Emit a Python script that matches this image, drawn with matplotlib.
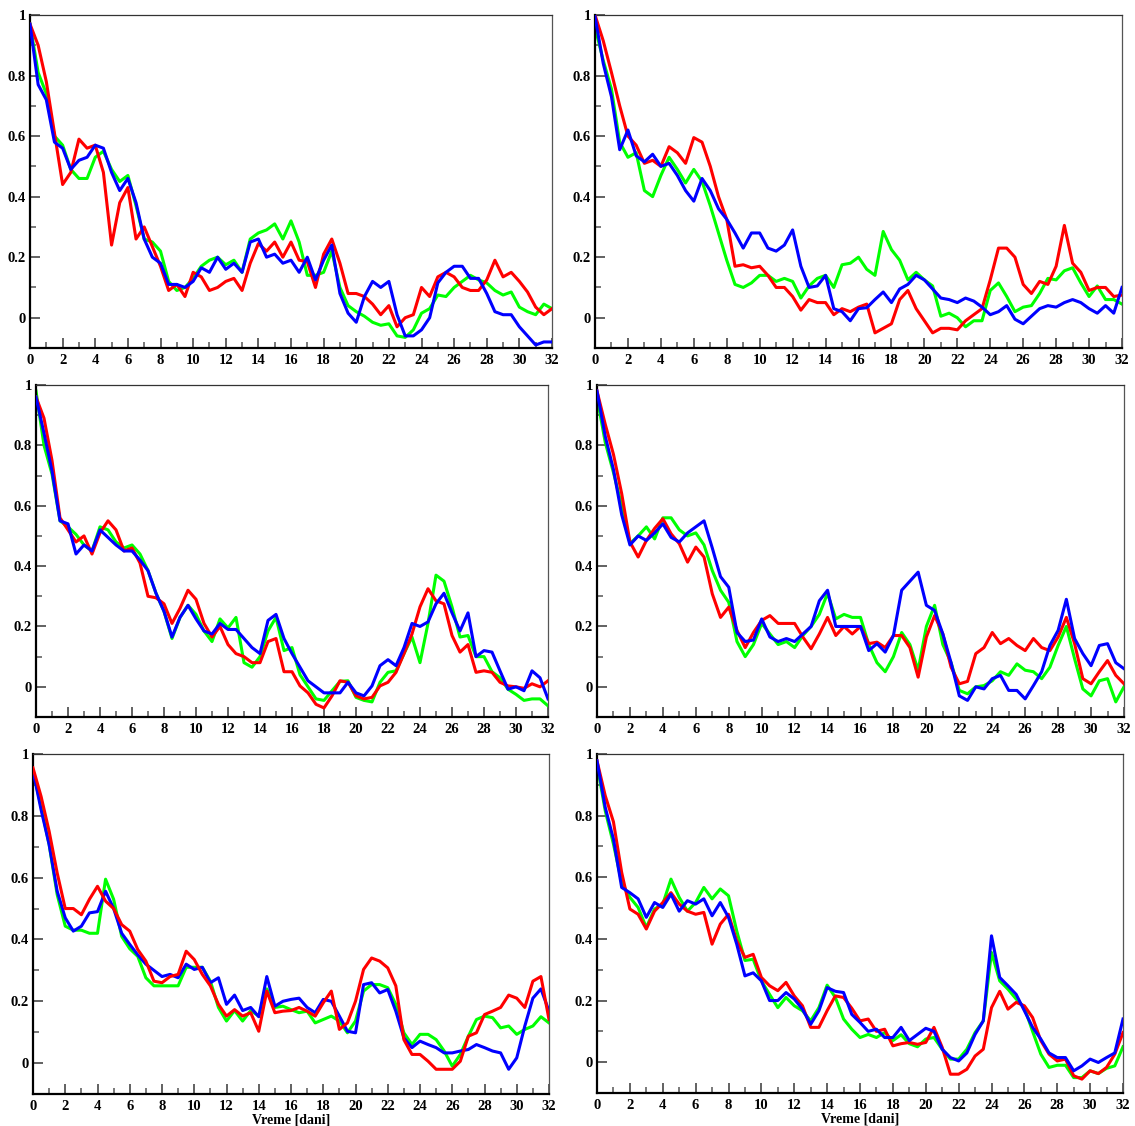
import numpy as np
import matplotlib
matplotlib.use("Agg")
import matplotlib.pyplot as plt
from matplotlib.ticker import MultipleLocator, FixedLocator, FuncFormatter

# time axis (days), one sample every half day
days = np.linspace(0, 32, 65)

# ---------------- top-left panel ----------------
tl_green = [0.97, 0.81, 0.74, 0.60, 0.57, 0.49, 0.46, 0.46, 0.53, 0.55,
            0.49, 0.45, 0.47, 0.37, 0.26, 0.25, 0.22, 0.12, 0.09, 0.10,
            0.13, 0.17, 0.19, 0.20, 0.175, 0.19, 0.15, 0.26, 0.28, 0.29,
            0.31, 0.26, 0.32, 0.25, 0.14, 0.14, 0.15, 0.22, 0.10, 0.04,
            0.02, 0.005, -0.015, -0.025, -0.02, -0.06, -0.065, -0.04, 0.015, 0.03,
            0.075, 0.07, 0.10, 0.12, 0.14, 0.125, 0.115, 0.09, 0.075, 0.085,
            0.035, 0.02, 0.01, 0.045, 0.03]
tl_blue = [0.97, 0.77, 0.72, 0.58, 0.56, 0.49, 0.52, 0.53, 0.57, 0.56,
           0.48, 0.42, 0.46, 0.38, 0.26, 0.20, 0.18, 0.11, 0.11, 0.10,
           0.12, 0.165, 0.15, 0.20, 0.16, 0.18, 0.15, 0.25, 0.26, 0.20,
           0.21, 0.18, 0.19, 0.15, 0.20, 0.125, 0.19, 0.24, 0.08, 0.015,
           -0.015, 0.07, 0.12, 0.10, 0.12, 0.01, -0.06, -0.06, -0.04, 0.0,
           0.115, 0.15, 0.17, 0.17, 0.13, 0.13, 0.08, 0.02, 0.01, 0.01,
           -0.03, -0.06, -0.09, -0.08, -0.08]
tl_red = [0.97, 0.90, 0.78, 0.61, 0.44, 0.48, 0.59, 0.56, 0.57, 0.48,
          0.24, 0.38, 0.43, 0.26, 0.30, 0.235, 0.17, 0.09, 0.11, 0.07,
          0.15, 0.135, 0.09, 0.10, 0.12, 0.13, 0.09, 0.18, 0.245, 0.22,
          0.25, 0.20, 0.25, 0.19, 0.185, 0.10, 0.21, 0.26, 0.18, 0.08,
          0.08, 0.07, 0.045, 0.01, 0.04, -0.03, 0.0, 0.01, 0.10, 0.07,
          0.135, 0.15, 0.135, 0.10, 0.09, 0.09, 0.125, 0.19, 0.135, 0.15,
          0.12, 0.085, 0.035, 0.01, 0.03]

# ---------------- top-right panel ----------------
tr_green = [0.96, 0.85, 0.755, 0.58, 0.53, 0.545, 0.42, 0.40, 0.47, 0.53,
            0.49, 0.445, 0.49, 0.45, 0.37, 0.28, 0.19, 0.11, 0.10, 0.115,
            0.14, 0.14, 0.12, 0.13, 0.12, 0.065, 0.105, 0.13, 0.14, 0.10,
            0.175, 0.18, 0.20, 0.16, 0.14, 0.285, 0.225, 0.19, 0.125, 0.15,
            0.125, 0.105, 0.005, 0.015, 0.0, -0.03, -0.01, -0.01, 0.09, 0.115,
            0.07, 0.02, 0.035, 0.04, 0.08, 0.13, 0.125, 0.155, 0.165, 0.115,
            0.07, 0.105, 0.06, 0.06, 0.045]
tr_blue = [0.995, 0.84, 0.73, 0.555, 0.62, 0.535, 0.515, 0.54, 0.50, 0.51,
           0.47, 0.42, 0.385, 0.46, 0.42, 0.36, 0.325, 0.28, 0.23, 0.28,
           0.28, 0.23, 0.22, 0.24, 0.29, 0.17, 0.10, 0.105, 0.14, 0.03,
           0.02, -0.01, 0.03, 0.033, 0.06, 0.085, 0.05, 0.095, 0.11, 0.14,
           0.125, 0.095, 0.065, 0.06, 0.05, 0.065, 0.055, 0.035, 0.01, 0.02,
           0.04, -0.005, -0.02, 0.005, 0.03, 0.04, 0.035, 0.05, 0.06, 0.05,
           0.03, 0.015, 0.04, 0.015, 0.10]
tr_red = [1.0, 0.915, 0.81, 0.70, 0.60, 0.57, 0.51, 0.52, 0.50, 0.565,
          0.545, 0.51, 0.595, 0.58, 0.50, 0.40, 0.325, 0.17, 0.175, 0.165,
          0.17, 0.14, 0.10, 0.10, 0.07, 0.025, 0.06, 0.05, 0.05, 0.01,
          0.03, 0.02, 0.035, 0.045, -0.05, -0.035, -0.02, 0.06, 0.09, 0.03,
          -0.01, -0.05, -0.035, -0.035, -0.04, -0.01, 0.01, 0.03, 0.125, 0.23,
          0.23, 0.20, 0.11, 0.08, 0.12, 0.11, 0.17, 0.305, 0.18, 0.15,
          0.09, 0.10, 0.10, 0.07, 0.075]

# ---------------- middle-left panel ----------------
ml_green = [0.98, 0.80, 0.705, 0.55, 0.53, 0.505, 0.47, 0.45, 0.53, 0.52,
            0.48, 0.46, 0.47, 0.44, 0.385, 0.31, 0.25, 0.16, 0.23, 0.27,
            0.24, 0.185, 0.15, 0.225, 0.195, 0.23, 0.08, 0.065, 0.10, 0.185,
            0.23, 0.12, 0.13, 0.04, 0.0, -0.04, -0.045, -0.013, 0.018, 0.02,
            -0.035, -0.045, -0.05, 0.015, 0.048, 0.053, 0.11, 0.165, 0.08, 0.21,
            0.37, 0.35, 0.265, 0.165, 0.17, 0.10, 0.10, 0.05, 0.03, -0.008,
            -0.025, -0.045, -0.04, -0.04, -0.063]
ml_blue = [0.96, 0.84, 0.715, 0.55, 0.54, 0.44, 0.47, 0.45, 0.52, 0.495,
           0.47, 0.45, 0.45, 0.42, 0.385, 0.31, 0.25, 0.165, 0.23, 0.27,
           0.225, 0.185, 0.175, 0.21, 0.19, 0.19, 0.16, 0.13, 0.11, 0.22,
           0.24, 0.16, 0.11, 0.065, 0.02, 0.0, -0.02, -0.02, -0.02, 0.015,
           -0.02, -0.03, 0.003, 0.07, 0.09, 0.07, 0.13, 0.21, 0.20, 0.215,
           0.275, 0.31, 0.245, 0.185, 0.245, 0.10, 0.12, 0.115, 0.053, -0.008,
           0.0, -0.013, 0.053, 0.03, -0.04]
ml_red = [0.96, 0.89, 0.75, 0.56, 0.52, 0.48, 0.50, 0.44, 0.51, 0.55,
          0.52, 0.45, 0.46, 0.41, 0.30, 0.295, 0.275, 0.21, 0.26, 0.32,
          0.29, 0.21, 0.165, 0.20, 0.14, 0.11, 0.10, 0.08, 0.08, 0.15,
          0.16, 0.05, 0.05, 0.003, -0.02, -0.058, -0.07, -0.03, 0.02, 0.015,
          -0.03, -0.04, -0.035, 0.003, 0.015, 0.048, 0.11, 0.175, 0.265, 0.325,
          0.285, 0.275, 0.17, 0.115, 0.14, 0.048, 0.053, 0.048, 0.015, 0.003,
          0.0, -0.005, 0.01, 0.0, 0.02]

# ---------------- middle-right panel ----------------
mr_green = [0.96, 0.81, 0.71, 0.60, 0.475, 0.50, 0.53, 0.49, 0.56, 0.56,
            0.52, 0.50, 0.51, 0.47, 0.385, 0.32, 0.28, 0.15, 0.10, 0.14,
            0.21, 0.175, 0.14, 0.15, 0.13, 0.17, 0.20, 0.24, 0.31, 0.225,
            0.24, 0.23, 0.23, 0.14, 0.08, 0.05, 0.10, 0.18, 0.14, 0.055,
            0.20, 0.27, 0.14, 0.08, -0.012, -0.023, 0.0, 0.004, 0.02, 0.05,
            0.038, 0.076, 0.055, 0.05, 0.027, 0.065, 0.137, 0.20, 0.093, -0.007,
            -0.03, 0.02, 0.027, -0.05, 0.0]
mr_blue = [0.98, 0.83, 0.72, 0.57, 0.47, 0.50, 0.485, 0.51, 0.54, 0.495,
           0.48, 0.51, 0.53, 0.55, 0.46, 0.365, 0.33, 0.18, 0.15, 0.155,
           0.225, 0.165, 0.15, 0.16, 0.15, 0.175, 0.20, 0.285, 0.32, 0.20,
           0.20, 0.20, 0.20, 0.12, 0.143, 0.115, 0.17, 0.32, 0.35, 0.38,
           0.27, 0.253, 0.175, 0.08, -0.03, -0.045, 0.0, -0.007, 0.027, 0.038,
           -0.012, -0.012, -0.04, 0.004, 0.05, 0.137, 0.187, 0.29, 0.16, 0.11,
           0.07, 0.137, 0.143, 0.08, 0.06]
mr_red = [0.98, 0.87, 0.77, 0.64, 0.48, 0.43, 0.485, 0.525, 0.557, 0.507,
          0.474, 0.413, 0.463, 0.43, 0.308, 0.23, 0.264, 0.187, 0.13, 0.18,
          0.22, 0.236, 0.21, 0.21, 0.21, 0.165, 0.126, 0.175, 0.23, 0.17,
          0.20, 0.175, 0.20, 0.143, 0.148, 0.13, 0.17, 0.17, 0.13, 0.032,
          0.165, 0.236, 0.175, 0.065, 0.01, 0.018, 0.11, 0.13, 0.18, 0.143,
          0.16, 0.137, 0.12, 0.16, 0.13, 0.12, 0.165, 0.23, 0.143, 0.027,
          0.01, 0.05, 0.087, 0.038, 0.01]

# ---------------- bottom-left panel ----------------
bl_green = [0.945, 0.83, 0.707, 0.545, 0.443, 0.43, 0.43, 0.42, 0.42, 0.595,
            0.53, 0.41, 0.37, 0.345, 0.276, 0.25, 0.25, 0.25, 0.25, 0.31,
            0.31, 0.31, 0.265, 0.18, 0.136, 0.17, 0.136, 0.17, 0.152, 0.24,
            0.18, 0.184, 0.173, 0.163, 0.168, 0.13, 0.141, 0.152, 0.136, 0.098,
            0.136, 0.233, 0.254, 0.254, 0.244, 0.19, 0.098, 0.06, 0.093, 0.093,
            0.076, 0.039, -0.01, 0.028, 0.087, 0.141, 0.152, 0.147, 0.114, 0.12,
            0.093, 0.109, 0.12, 0.15, 0.13]
bl_blue = [0.945, 0.82, 0.707, 0.556, 0.47, 0.427, 0.443, 0.486, 0.49, 0.556,
           0.50, 0.42, 0.384, 0.35, 0.32, 0.30, 0.28, 0.287, 0.276, 0.32,
           0.303, 0.31, 0.26, 0.276, 0.19, 0.22, 0.17, 0.18, 0.15, 0.28,
           0.184, 0.20, 0.206, 0.21, 0.18, 0.163, 0.206, 0.20, 0.152, 0.103,
           0.098, 0.254, 0.26, 0.227, 0.238, 0.168, 0.082, 0.05, 0.071, 0.06,
           0.05, 0.033, 0.033, 0.039, 0.044, 0.06, 0.05, 0.039, 0.033, -0.02,
           0.017, 0.12, 0.21, 0.24, 0.168]
bl_red = [0.955, 0.863, 0.75, 0.615, 0.50, 0.50, 0.48, 0.53, 0.572, 0.524,
          0.50, 0.448, 0.427, 0.367, 0.33, 0.265, 0.26, 0.28, 0.287, 0.362,
          0.335, 0.287, 0.25, 0.19, 0.152, 0.173, 0.152, 0.163, 0.103, 0.233,
          0.163, 0.168, 0.17, 0.18, 0.168, 0.152, 0.195, 0.233, 0.109, 0.13,
          0.20, 0.303, 0.34, 0.33, 0.308, 0.25, 0.076, 0.028, 0.028, 0.006,
          -0.02, -0.02, -0.02, 0.006, 0.087, 0.098, 0.157, 0.168, 0.18, 0.22,
          0.21, 0.18, 0.265, 0.28, 0.141]

# ---------------- bottom-right panel ----------------
br_green = [0.967, 0.816, 0.708, 0.583, 0.535, 0.502, 0.437, 0.497, 0.513, 0.594,
            0.535, 0.49, 0.518, 0.567, 0.53, 0.562, 0.54, 0.426, 0.33, 0.334,
            0.264, 0.22, 0.177, 0.21, 0.183, 0.167, 0.134, 0.177, 0.25, 0.21,
            0.14, 0.107, 0.08, 0.09, 0.08, 0.096, 0.07, 0.089, 0.06, 0.05,
            0.075, 0.08, 0.042, 0.01, 0.01, 0.042, 0.096, 0.134, 0.356, 0.264,
            0.237, 0.205, 0.177, 0.10, 0.026, -0.017, -0.01, -0.01, -0.05, -0.05,
            -0.028, -0.037, -0.02, -0.012, 0.05]
br_blue = [0.978, 0.827, 0.724, 0.567, 0.55, 0.53, 0.47, 0.518, 0.502, 0.545,
           0.49, 0.524, 0.513, 0.53, 0.475, 0.518, 0.47, 0.383, 0.28, 0.29,
           0.264, 0.20, 0.20, 0.226, 0.205, 0.172, 0.123, 0.167, 0.242, 0.23,
           0.226, 0.155, 0.129, 0.10, 0.107, 0.08, 0.08, 0.113, 0.07, 0.09,
           0.11, 0.10, 0.042, 0.015, 0.004, 0.03, 0.09, 0.134, 0.41, 0.275,
           0.248, 0.22, 0.167, 0.113, 0.075, 0.03, 0.015, 0.015, -0.028, -0.012,
           0.01, -0.001, 0.015, 0.03, 0.14]
br_red = [0.978, 0.865, 0.78, 0.616, 0.497, 0.48, 0.432, 0.49, 0.518, 0.55,
          0.513, 0.49, 0.48, 0.486, 0.383, 0.448, 0.48, 0.394, 0.34, 0.35,
          0.275, 0.248, 0.232, 0.259, 0.215, 0.183, 0.113, 0.113, 0.167, 0.215,
          0.21, 0.175, 0.134, 0.14, 0.10, 0.107, 0.053, 0.06, 0.064, 0.058,
          0.064, 0.113, 0.048, -0.039, -0.039, -0.023, 0.02, 0.042, 0.177, 0.23,
          0.172, 0.194, 0.183, 0.145, 0.07, 0.026, 0.004, 0.01, -0.044, -0.055,
          -0.028, -0.037, -0.017, 0.026, 0.096]

x_ticks = [0, 2, 4, 6, 8, 10, 12, 14, 16, 18, 20, 22, 24, 26, 28, 30, 32]
y_ticks = [0, 0.2, 0.4, 0.6, 0.8, 1.0]
x_label = "Vreme [dani]"

W, H = 1135, 1126
fig = plt.figure(figsize=(W / 100, H / 100), dpi=100)

# panel boxes in pixels: left, top, right, bottom
boxes = [(30, 15, 552, 348), (595, 15, 1122, 348),
         (36, 385, 548, 717), (597, 385, 1124, 717),
         (33, 754, 549, 1094), (597, 754, 1123, 1093)]
panels = [(tl_green, tl_red, tl_blue), (tr_green, tr_red, tr_blue),
          (ml_green, ml_red, ml_blue), (mr_green, mr_red, mr_blue),
          (bl_green, bl_red, bl_blue), (br_green, br_red, br_blue)]

font = dict(family="Liberation Serif", weight="bold")

def yfmt(v, pos):
    if abs(v) < 1e-9:
        return "0"
    if abs(v - 1) < 1e-9:
        return "1"
    return f"{v:.1f}"

for i, ((l, t, r, b), (g, rd, bl)) in enumerate(zip(boxes, panels)):
    ax = fig.add_axes([l / W, 1 - b / H, (r - l) / W, (b - t) / H])
    zr, zb = (3, 4) if i != 4 else (4, 3)
    ax.plot(days, g, color="#00ff00", lw=2.2, zorder=2)
    ax.plot(days, rd, color="#ff0000", lw=2.2, zorder=zr)
    ax.plot(days, bl, color="#0000ff", lw=2.2, zorder=zb)
    ax.set_xlim(0, 32)
    ax.set_ylim(-0.1, 1.0)
    ax.xaxis.set_major_locator(FixedLocator(x_ticks))
    ax.xaxis.set_minor_locator(MultipleLocator(1))
    ax.yaxis.set_major_locator(FixedLocator(y_ticks))
    ax.yaxis.set_minor_locator(MultipleLocator(0.1))
    ax.yaxis.set_major_formatter(FuncFormatter(yfmt))
    ax.tick_params(which="both", direction="in", top=False, right=False,
                   color="#555555")
    ax.tick_params(which="major", length=7, width=1.3)
    ax.tick_params(which="minor", length=4, width=1.1)
    ax.tick_params(axis="x", pad=4)
    ax.tick_params(axis="y", pad=3)
    for lab in ax.get_xticklabels() + ax.get_yticklabels():
        lab.set_fontfamily("Liberation Serif")
        lab.set_fontweight("bold")
        lab.set_fontsize(10.5)
    ax.spines["left"].set_linewidth(1.6)
    ax.spines["bottom"].set_linewidth(1.6)
    ax.spines["top"].set_linewidth(0.9)
    ax.spines["right"].set_linewidth(0.9)
    ax.spines["right"].set_color("#555555")
    ax.spines["top"].set_color("#333333")
    if i >= 4:
        ax.set_xlabel(x_label, fontsize=10, labelpad=1, **font)

fig.savefig("out.png", dpi=100)
